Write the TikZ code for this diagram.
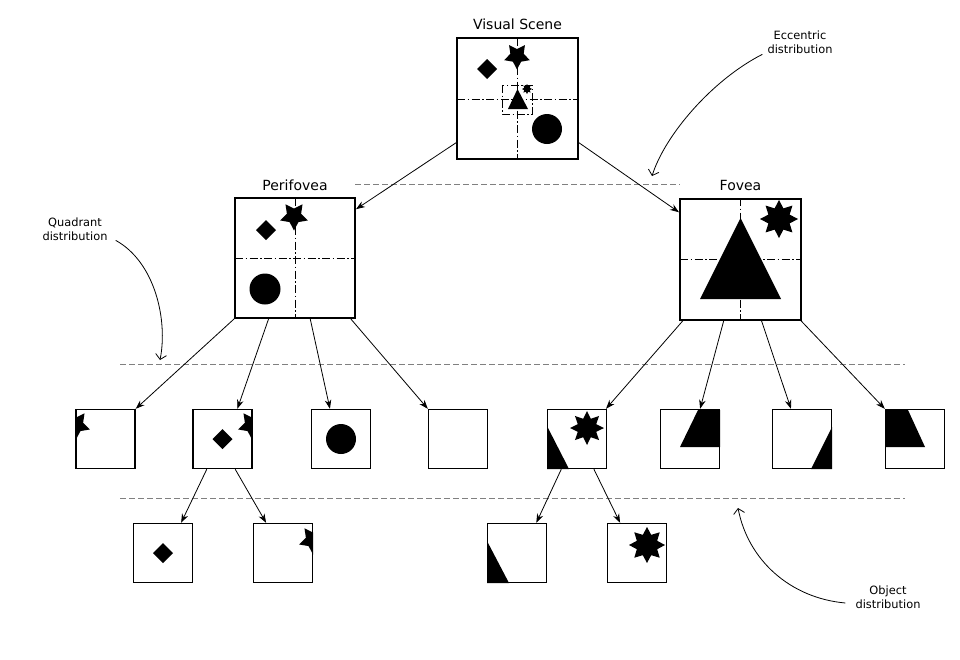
\documentclass[tikz,border=0pt]{standalone}
\usepackage{fontspec}
\setmainfont{DejaVu Sans}
\usetikzlibrary{arrows.meta,calc}

% cx, cy, R, r, n, rotation
\newcommand\pstar[6]{%
  \begin{scope}[shift={(#1,#2)}]
    \pgfmathtruncatemacro\pstarm{#5-1}%
    \fill (#6:#3) \foreach \k in {1,...,\pstarm}{ -- ({#6+360*(\k-0.5)/#5}:#4) -- ({#6+360*\k/#5}:#3)} -- ({#6+360*(#5-0.5)/#5}:#4) -- cycle;
  \end{scope}}
% cx, cy, half diagonal
\newcommand\pdiam[3]{\fill (#1-#3,#2) -- (#1,#2-#3) -- (#1+#3,#2) -- (#1,#2+#3) -- cycle;}

\tikzset{
  bigbox/.style={draw, line width=2pt, minimum size=120pt, inner sep=0pt},
  smallbox/.style={draw, line width=1.4pt, minimum size=59pt, inner sep=0pt},
  titletext/.style={font=\fontsize{14}{16}\selectfont, inner sep=1pt},
  notetext/.style={font=\fontsize{11.4}{13.5}\selectfont, align=center, inner sep=2pt},
  conn/.style={-{Stealth[length=9pt,width=6.5pt]}, line width=0.8pt},
  notearrow/.style={-{Straight Barb[length=5pt,width=11pt]}, line width=0.8pt},
  sepline/.style={gray, dash pattern=on 6pt off 3pt, line width=0.8pt},
  cross/.style={dash pattern=on 8pt off 2.5pt on 1.5pt off 2.5pt, line width=0.9pt},
}

\begin{document}
\begin{tikzpicture}[x=1pt,y=-1pt]
\fill[white] (0,0) rectangle (960,659);
\useasboundingbox (0,0) rectangle (960,659);

% titles
\node[titletext] (tvs) at (517.5,24) {Visual Scene};
\node[titletext] (tper) at (295,185) {Perifovea};
\node[titletext] (tfov) at (740.5,185) {Fovea};

% separators
\draw[sepline] (355,184) -- (680,184);
\draw[sepline] (120,364) -- (905,364);
\draw[sepline] (120,498) -- (905,498);

% crosshairs
\draw[cross] (457,99) -- (578,99);
\draw[cross] (517.5,38) -- (517.5,159);
\draw[cross, line width=0.8pt] (502,85) rectangle (532,114);
\draw[cross] (235,258.5) -- (355,258.5);
\draw[cross] (295,198) -- (295,318);
\draw[cross] (680,259) -- (801,259);
\draw[cross] (740.5,198) -- (740.5,320);

% Visual scene contents
\pstar{517}{56}{13.5}{7}{5}{90}
\pdiam{487}{69}{10}
\fill (508,109) -- (517.5,89) -- (528,109) -- cycle;
\pstar{527}{89}{5}{3}{8}{90}
\fill (547,129) circle[radius=15];

% Perifovea contents
\pstar{294}{216}{14.5}{7.5}{5}{90}
\pdiam{266}{230}{10}
\fill (265,289) circle[radius=15.5];

% Fovea contents
\fill (700,299) -- (740.5,218) -- (781,299) -- cycle;
\pstar{779}{219}{19}{11.5}{8}{90}

% row 2 contents
\begin{scope}
  \clip (76,409) rectangle (135,469);
  \pstar{76}{425}{14.5}{7.5}{5}{90}
\end{scope}
\begin{scope}
  \clip (193,409) rectangle (252,469);
  \pstar{252}{425}{14.5}{7.5}{5}{90}
\end{scope}
\pdiam{222.5}{439}{10}
\fill (341,439) circle[radius=15];
\pstar{587}{428}{17}{10}{8}{90}
\fill (547,426) -- (569,469) -- (547,469) -- cycle;
\fill (698,410) -- (720,410) -- (720,447) -- (680,447) -- cycle;
\fill (832,427) -- (832,469) -- (811,469) -- cycle;
\fill (885,410) -- (908,410) -- (925,447) -- (885,447) -- cycle;

% row 3 contents
\pdiam{163}{553}{10}
\begin{scope}
  \clip (253,523) rectangle (313,583);
  \pstar{313}{540}{14.5}{7.5}{5}{90}
\end{scope}
\fill (487,541) -- (509,583) -- (487,583) -- cycle;
\pstar{647}{545}{18}{11}{8}{90}

% boxes
\node[bigbox, minimum size=121pt] (vs) at (517.5,98.5) {};
\node[bigbox] (peri) at (295,258) {};
\node[bigbox, minimum size=121pt] (fov) at (740.5,259) {};

\node[smallbox] (b1) at (105.5,439) {};
\node[smallbox] (b2) at (222.5,439) {};
\node[smallbox] (b3) at (341,439) {};
\node[smallbox] (b4) at (458,439) {};
\node[smallbox] (b5) at (577,439) {};
\node[smallbox] (b6) at (690,439) {};
\node[smallbox] (b7) at (802,439) {};
\node[smallbox] (b8) at (915,439) {};

\node[smallbox] (b9) at (163,553) {};
\node[smallbox] (b10) at (283,553) {};
\node[smallbox] (b11) at (517,553) {};
\node[smallbox] (b12) at (637,553) {};

% connectors
\draw[conn] ($(vs.north west)!0.86!(vs.south west)$) -- ($(peri.north east)!0.1!(peri.south east)$);
\draw[conn] ($(vs.north east)!0.86!(vs.south east)$) -- ($(fov.north west)!0.12!(fov.south west)$);

\draw[conn] (peri.south west) -- (b1.north east);
\draw[conn] ($(peri.south west)!0.283!(peri.south east)$) -- ($(b2.north west)!0.746!(b2.north east)$);
\draw[conn] ($(peri.south west)!0.625!(peri.south east)$) -- ($(b3.north west)!0.317!(b3.north east)$);
\draw[conn] ($(peri.south west)!0.958!(peri.south east)$) -- (b4.north west);

\draw[conn] ($(fov.south west)!0.033!(fov.south east)$) -- ($(b5.north west)!0.98!(b5.north east)$);
\draw[conn] ($(fov.south west)!0.364!(fov.south east)$) -- ($(b6.north west)!0.667!(b6.north east)$);
\draw[conn] ($(fov.south west)!0.67!(fov.south east)$) -- ($(b7.north west)!0.317!(b7.north east)$);
\draw[conn] ($(fov.south west)!0.99!(fov.south east)$) -- (b8.north west);

\draw[conn] ($(b2.south west)!0.24!(b2.south east)$) -- ($(b9.north west)!0.8!(b9.north east)$);
\draw[conn] ($(b2.south west)!0.71!(b2.south east)$) -- ($(b10.north west)!0.22!(b10.north east)$);
\draw[conn] ($(b5.south west)!0.24!(b5.south east)$) -- ($(b11.north west)!0.82!(b11.north east)$);
\draw[conn] ($(b5.south west)!0.78!(b5.south east)$) -- ($(b12.north west)!0.22!(b12.north east)$);

% annotations
\node[notetext] (ecc) at (800,42) {Eccentric\\distribution};
\node[notetext] (quad) at (75,229) {Quadrant\\distribution};
\node[notetext] (obj) at (888,597) {Object\\distribution};

\coordinate (eccend) at (652,176);
\coordinate (quadend) at (160,360);
\coordinate (objend) at (738,508);

\draw[notearrow] ($(ecc.south west)+(-3,-1)$) .. controls (712,80) and (665,135) .. (eccend);
\draw[notearrow] ($(quad.south east)+(6,-2)$) .. controls (155,262) and (168,320) .. (quadend);
\draw[notearrow] ($(obj.west)+(-8,6)$) .. controls (790,598) and (748,560) .. (objend);
\end{tikzpicture}
\end{document}
